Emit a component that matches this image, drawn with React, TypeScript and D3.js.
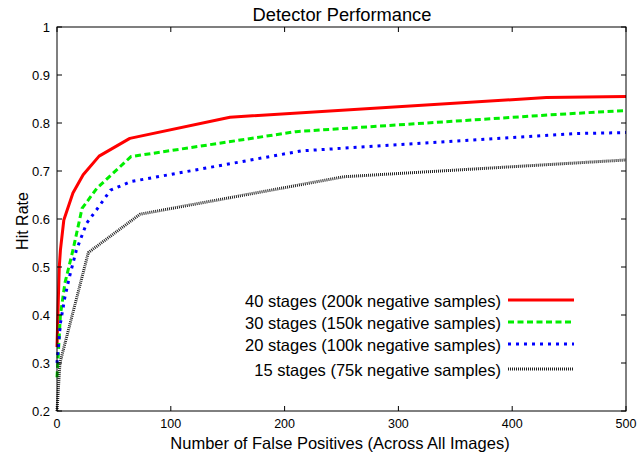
import React from "react";
import * as d3 from "d3";

const xTicks = [0, 100, 200, 300, 400, 500];
const yTicks = [0.2, 0.3, 0.4, 0.5, 0.6, 0.7, 0.8, 0.9, 1];

const red40X = [0, 1, 2, 3, 6, 14, 23, 37, 64, 152, 430, 500];
const red40Y = [0.333, 0.42, 0.5, 0.535, 0.598, 0.654, 0.692, 0.731, 0.768, 0.812, 0.853, 0.855];

const green30X = [0, 3, 7, 14, 22, 35, 65, 210, 440, 500];
const green30Y = [0.27, 0.4, 0.467, 0.535, 0.622, 0.664, 0.73, 0.782, 0.818, 0.826];

const blue20X = [0, 3, 7, 11, 17, 26, 35, 47, 65, 215, 455, 500];
const blue20Y = [0.3, 0.383, 0.438, 0.48, 0.535, 0.591, 0.62, 0.66, 0.678, 0.742, 0.778, 0.78];

const black15X = [0, 2.6, 27.5, 73, 252, 500];
const black15Y = [0.2, 0.3, 0.53, 0.61, 0.688, 0.723];

const seriesNames = [
  "40 stages (200k negative samples)",
  "30 stages (150k negative samples)",
  "20 stages (100k negative samples)",
  "15 stages (75k negative samples)",
];

const W = 641, H = 456;
const L = 57, R = 626, T = 27, B = 411;

export default function App() {
  const x = d3.scaleLinear().domain([0, 500]).range([L, R]);
  const y = d3.scaleLinear().domain([0.2, 1]).range([B, T]);
  const line = d3.line<[number, number]>().x(d => x(d[0])).y(d => y(d[1]));
  const zip = (xs: number[], ys: number[]) => xs.map((v, i) => [v, ys[i]] as [number, number]);

  const series = [
    { name: seriesNames[0], data: zip(red40X, red40Y), color: "#ff0000", dash: "none", w: 3 },
    { name: seriesNames[1], data: zip(green30X, green30Y), color: "#00ee00", dash: "6,3.5", w: 3 },
    { name: seriesNames[2], data: zip(blue20X, blue20Y), color: "#0000ff", dash: "3,5", w: 3 },
    { name: seriesNames[3], data: zip(black15X, black15Y), color: "#222222", dash: "1,1", w: 3 },
  ];
  const legendY = [300, 322, 344, 369];
  const font = "'Liberation Sans', Arial, sans-serif";

  return (
    <svg width={W} height={H} style={{ position: "absolute", left: 0, top: 0, background: "#fff" }} fontFamily={font}>
      <rect x={0} y={0} width={W} height={H} fill="#fff" />
      <text x={342} y={21} textAnchor="middle" fontSize={18.3}>Detector Performance</text>
      {series.map((s, i) => (
        <path key={i} d={line(s.data) || ""} fill="none" stroke={s.color} strokeWidth={s.w}
          strokeDasharray={s.dash} strokeLinejoin="round" />
      ))}
      <rect x={L} y={T} width={R - L} height={B - T} fill="none" stroke="#000" strokeWidth={1} />
      {xTicks.map(t => (
        <g key={"x" + t}>
          <line x1={x(t)} x2={x(t)} y1={B} y2={B - 5} stroke="#000" />
          <line x1={x(t)} x2={x(t)} y1={T} y2={T + 5} stroke="#000" />
          <text x={x(t)} y={B + 17} textAnchor="middle" fontSize={12.5}>{t}</text>
        </g>
      ))}
      {yTicks.map(t => (
        <g key={"y" + t}>
          <line x1={L} x2={L + 5} y1={y(t)} y2={y(t)} stroke="#000" />
          <line x1={R} x2={R - 5} y1={y(t)} y2={y(t)} stroke="#000" />
          <text x={L - 7} y={y(t) + 4.5} textAnchor="end" fontSize={13}>{t === 1 ? "1" : t.toFixed(1)}</text>
        </g>
      ))}
      <text x={340} y={449} textAnchor="middle" fontSize={16.5}>Number of False Positives (Across All Images)</text>
      <text transform={`translate(28,${(T + B) / 2 + 2}) rotate(-90)`} textAnchor="middle" fontSize={16}>Hit Rate</text>
      {series.map((s, i) => (
        <g key={"lg" + i}>
          <text x={501} y={legendY[i] + 6.5} textAnchor="end" fontSize={16.5}>{s.name}</text>
          <line x1={508} x2={574} y1={legendY[i]} y2={legendY[i]} stroke={s.color} strokeWidth={s.w}
            strokeDasharray={s.dash} />
        </g>
      ))}
    </svg>
  );
}
